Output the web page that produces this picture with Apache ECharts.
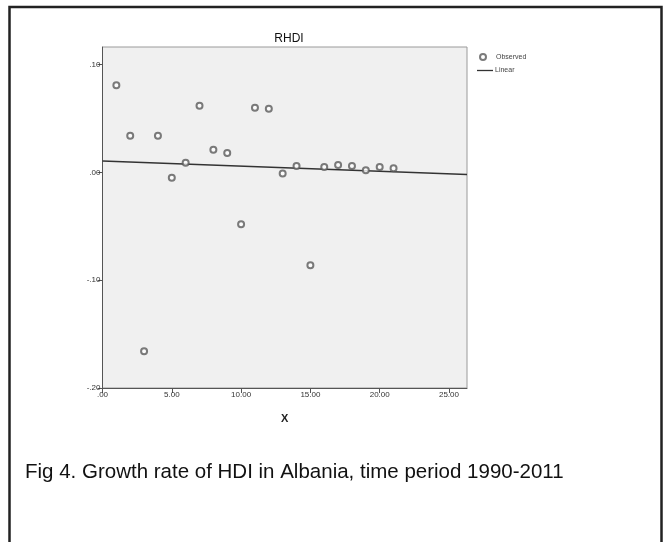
<!DOCTYPE html>
<html>
<head>
<meta charset="utf-8">
<script src="https://cdn.jsdelivr.net/npm/echarts@6/dist/echarts.min.js"></script>
<style>
html,body{margin:0;padding:0;background:#fff;}
#c{width:668px;height:542px;}
</style>
</head>
<body>
<div id="c"></div>
<script>
// Observed values (year index vs growth rate of HDI)
var xValues = [1,2,3,4,5,6,7,8,9,10,11,12,13,14,15,16,17,18,19,20,21];
var yValues = [0.081,0.034,-0.166,0.034,-0.005,0.009,0.062,0.021,0.018,-0.048,0.060,0.059,-0.001,0.006,-0.086,0.005,0.007,0.006,0.002,0.005,0.004];
// Linear fit line end points
var fitX = [0, 26.3];
var fitY = [0.0106, -0.0019];
// Axis ticks
var xTicks = [0,5,10,15,20,25];
var yTicks = [-0.2,-0.1,0,0.1];
var chartTitle = 'RHDI';
var caption = 'Fig 4. Growth rate of HDI in Albania, time period 1990-2011';

function fmt(v){
  var s = Number(v).toFixed(2);
  return s.replace(/^(-?)0\./, '$1.');
}

var FONT = 'Liberation Sans, Arial, sans-serif';
var chart = echarts.init(document.getElementById('c'), null, {renderer:'canvas'});
chart.setOption({
  animation:false,
  backgroundColor:'#fff',
  textStyle:{fontFamily:FONT},
  title:{
    text:chartTitle,
    left:284, top:28, textAlign:'center',
    textStyle:{fontSize:12, fontWeight:'normal', color:'#111', fontFamily:FONT}
  },
  legend:[
    {
      orient:'vertical',
      left:474, top:48,
      itemWidth:16, itemHeight:6,
      textStyle:{fontSize:7, color:'#444', padding:[0,0,0,0]},
      data:[{name:'Observed', icon:'emptyCircle'}]
    },
    {
      orient:'vertical',
      left:472, top:62,
      itemWidth:16, itemHeight:1.3,
      textStyle:{fontSize:7, color:'#444', padding:[0,0,0,-3]},
      data:[{name:'Linear', icon:'rect'}]
    }
  ],
  grid:{
    left:102.5, top:47, right:201, bottom:154,
    show:true, backgroundColor:'#f0f0f0', borderColor:'#9a9a9a', borderWidth:1
  },
  xAxis:{
    type:'value', min:0, max:26.3,
    name:'X', nameLocation:'middle', nameGap:25,
    nameTextStyle:{fontSize:11, color:'#222', fontWeight:'bold'},
    axisLine:{show:true, onZero:false, lineStyle:{color:'#555', width:1}},
    axisTick:{show:true, length:5, customValues:xTicks, lineStyle:{color:'#555'}},
    axisLabel:{fontSize:8, color:'#333', margin:3, customValues:xTicks, formatter:fmt},
    splitLine:{show:false}
  },
  yAxis:{
    type:'value', min:-0.2, max:0.1164,
    axisLine:{show:true, onZero:false, lineStyle:{color:'#555', width:1}},
    axisTick:{show:true, length:5, customValues:yTicks, lineStyle:{color:'#555'}},
    axisLabel:{fontSize:8, color:'#333', margin:2, customValues:yTicks, formatter:fmt},
    splitLine:{show:false}
  },
  series:[
    {
      name:'Observed', type:'scatter',
      symbol:'emptyCircle', symbolSize:6,
      itemStyle:{color:'#5a5a5a', borderWidth:1},
      data:xValues.map(function(x,i){return [x, yValues[i]];}),
      z:3
    },
    {
      name:'Linear', type:'line',
      showSymbol:false, symbol:'none',
      lineStyle:{color:'#333', width:1.4},
      itemStyle:{color:'#333'},
      data:fitX.map(function(x,i){return [x, fitY[i]];}),
      z:2
    }
  ],
  graphic:[
    {type:'rect', shape:{x:9.5, y:7, width:652, height:600}, style:{fill:null, stroke:'#222', lineWidth:2.5}, silent:true},
    {type:'text', left:25, top:462, style:{text:caption, fontSize:20.5, fill:'#111', fontFamily:FONT}}
  ]
});
</script>
</body>
</html>
